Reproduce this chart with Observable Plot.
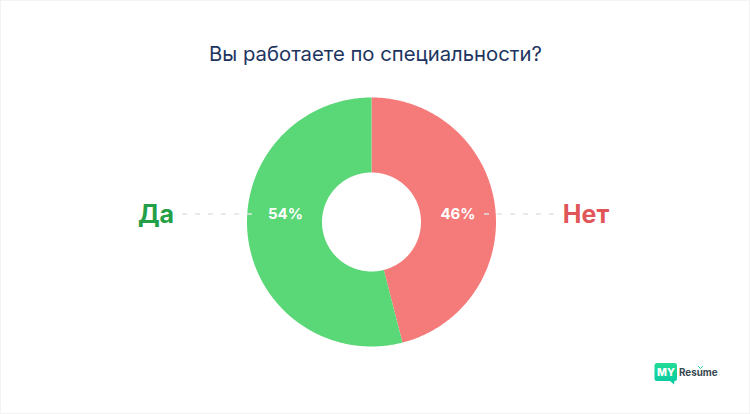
<!DOCTYPE html>
<html lang="ru">
<head>
<meta charset="utf-8">
<script src="https://cdn.jsdelivr.net/npm/d3@7"></script>
<script src="https://cdn.jsdelivr.net/npm/@observablehq/plot@0.6"></script>
<style>
html,body{margin:0;padding:0;background:#fff;}
#page{position:relative;width:750px;height:414px;overflow:hidden;font-family:Inter,sans-serif;box-shadow:inset 1px 1px 0 #f3f3f3,inset -1px -1px 0 #f3f3f3;}
#title{height:72px;box-sizing:border-box;padding-top:41px;text-align:center;font-size:20.3px;line-height:26px;color:#1d3461;font-weight:400;padding-left:1px;}
svg{display:block;background:transparent!important;}
</style>
</head>
<body>
<div id="page"><div id="title">Вы работаете по специальности?</div></div>
<script>
const categories = ["Нет", "Да"];
const shares = [46, 54];
const shareLabels = ["46%", "54%"];
const sliceColors = ["#f57b7a", "#5ad776"];
const labelColors = ["#e05558", "#239f47"];

const cx = 371, cy = 221.5, outerR = 124.5, innerR = 49.5, lineY = 213.5;
const pie = d3.pie().sort(null)(shares);

// Each slice as a closed ring sector in chart pixels, derived from its share
const ring = pie.flatMap((p, i) => {
  const n = Math.ceil((p.endAngle - p.startAngle) * 90);
  const angles = d3.range(n + 1).map(k => p.startAngle + (p.endAngle - p.startAngle) * k / n);
  const pt = (a, r) => ({cat: categories[i], x: cx + r * Math.sin(a), y: cy - r * Math.cos(a)});
  return [...angles.map(a => pt(a, outerR)), ...angles.slice().reverse().map(a => pt(a, innerR))];
});

const slices = categories.map((c, i) => ({cat: c, label: shareLabels[i], color: labelColors[i]}));
const labelX = {"Нет": 585.5, "Да": 155.5};
const pctX = {"Нет": 457.5, "Да": 285};
const dashes = [{x1: 182, x2: 256}, {x1: 484, x2: 555}];

const logoGradient = () => {
  const s = d3.create("svg:defs");
  const g = s.append("linearGradient").attr("id", "lg").attr("x1", 0).attr("y1", 0).attr("x2", 0).attr("y2", 1);
  g.append("stop").attr("offset", 0).attr("stop-color", "#22dd96");
  g.append("stop").attr("offset", 1).attr("stop-color", "#0ccba2");
  return s.node();
};

const chart = Plot.plot({
  width: 750, height: 342,
  margin: 0,
  x: {type: "linear", domain: [0, 750], range: [0, 750], axis: null},
  y: {type: "linear", domain: [72, 414], range: [0, 342], axis: null},
  color: {domain: categories, range: sliceColors},
  style: {fontFamily: "Inter, sans-serif", background: "transparent"},
  marks: [
    logoGradient,
    Plot.line(ring, {x: "x", y: "y", z: "cat", fill: "cat", stroke: null, curve: "linear-closed"}),
    Plot.ruleY(dashes, {x1: "x1", x2: "x2", y: lineY, stroke: "#e2e2e2", strokeWidth: 1.5, strokeDasharray: "5 8"}),
    Plot.text(slices, {x: d => pctX[d.cat], y: lineY + 0.5, text: "label", fill: "#fff", fontSize: 15, fontWeight: 700, letterSpacing: "0.3px"}),
    Plot.text(slices, {x: d => labelX[d.cat], y: lineY + 0.5, text: "cat", fill: "color", fontSize: 25, fontWeight: 700}),
    Plot.rect([{x1: 654.5, x2: 677, y1: 363, y2: 381}], {x1: "x1", x2: "x2", y1: "y1", y2: "y2", fill: "url(#lg)", rx: 2.5}),
    Plot.line([{x: 669, y: 380}, {x: 674, y: 380}, {x: 673.5, y: 384}], {x: "x", y: "y", fill: "#0ccba2", stroke: null, curve: "linear-closed"}),
    Plot.text(["MY"], {x: 665.5, y: 372.5, fill: "#fff", fontSize: 10.5, fontWeight: 800}),
    Plot.text(["Resume"], {x: 678.5, y: 372.5, textAnchor: "start", fill: "#37474f", fontSize: 9.8, fontWeight: 700}),
    Plot.line([{x: 698, y: 366}, {x: 700, y: 368}, {x: 702, y: 366}], {x: "x", y: "y", stroke: "#14cfa0", strokeWidth: 1})
  ]
});
document.getElementById("page").appendChild(chart);
</script>
</body>
</html>
